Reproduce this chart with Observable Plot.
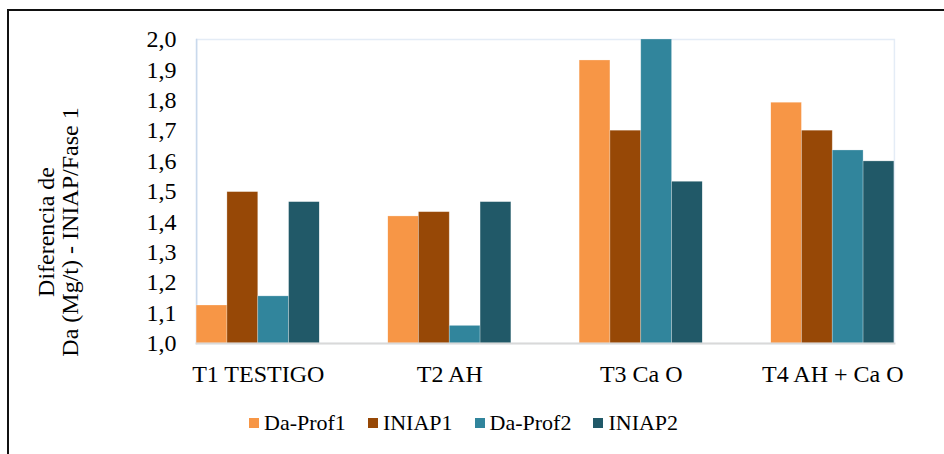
<!DOCTYPE html>
<html>
<head>
<meta charset="utf-8">
<script src="https://cdn.jsdelivr.net/npm/d3@7"></script>
<script src="https://cdn.jsdelivr.net/npm/@observablehq/plot@0.6"></script>
<style>
  html, body { margin: 0; padding: 0; background: #fff; }
  #wrap { position: relative; width: 944px; height: 454px; overflow: hidden; font-family: "Liberation Serif", "Times New Roman", serif; }
  #border { position: absolute; left: 7px; top: 9px; width: 2000px; height: 2000px; border-top: 2px solid #111; border-left: 2px solid #111; pointer-events: none; }
  #chart { position: absolute; left: 0; top: 0; }
  #legend { position: absolute; left: 249px; top: 410px; height: 26px; display: flex; align-items: center; font-size: 22px; color: #000; }
  .item { display: flex; align-items: center; margin-right: 22px; }
  .sw { width: 10px; height: 10px; margin-right: 5px; }
</style>
</head>
<body>
<div id="wrap">
  <div id="chart"></div>
  <div id="legend"></div>
  <div id="border"></div>
</div>
<script>
const categories = ["T1 TESTIGO", "T2 AH", "T3 Ca O", "T4 AH + Ca O"];
const series = ["Da-Prof1", "INIAP1", "Da-Prof2", "INIAP2"];
const colors = ["#F79646", "#974806", "#31859C", "#215968"];
const daProf1 = [1.125, 1.418, 1.931, 1.792];
const iniap1 = [1.498, 1.432, 1.700, 1.700];
const daProf2 = [1.155, 1.058, 2.000, 1.635];
const iniap2 = [1.465, 1.465, 1.532, 1.599];
const yTicks = [1.0, 1.1, 1.2, 1.3, 1.4, 1.5, 1.6, 1.7, 1.8, 1.9, 2.0];
const yTitle = ["Diferencia de", "Da (Mg/t) - INIAP/Fase 1"];

const valuesBySeries = [daProf1, iniap1, daProf2, iniap2];
const data = [];
categories.forEach((c, i) => {
  series.forEach((s, j) => data.push({category: c, series: s, value: valuesBySeries[j][i]}));
});

const chart = Plot.plot({
  width: 944,
  height: 395,
  marginLeft: 162,
  marginRight: 16,
  marginTop: 39,
  marginBottom: 52,
  style: {fontFamily: "'Liberation Serif', 'Times New Roman', serif", fontSize: "24px", color: "#000", background: "transparent"},
  fx: {domain: categories, paddingInner: 0.356, paddingOuter: 0.178, round: false, label: null, tickSize: 0, tickPadding: 21, axis: "bottom"},
  x: {domain: series, padding: 0, round: false, axis: null},
  y: {domain: [1, 2], ticks: yTicks, tickFormat: d => d.toFixed(1).replace(".", ","), tickSize: 0, tickPadding: 20, label: null},
  color: {domain: series, range: colors},
  marks: [
    Plot.frame({facet: "super", stroke: "#e4ecf6", strokeWidth: 1.5}),
    Plot.frame({facet: "super", anchor: "left", stroke: "#c9d9ec", strokeWidth: 1.5}),
    Plot.barY(data, {fx: "category", x: "series", y1: 1, y2: "value", fill: "series", stroke: "#fff", strokeOpacity: 0.35, strokeWidth: 0.75, inset: 0, clip: true}),
    Plot.frame({facet: "super", anchor: "bottom", stroke: "#d9d9d9", strokeWidth: 2})
  ]
});
document.getElementById("chart").appendChild(chart);

// two-line rotated y-axis title
const svg = d3.select(chart);
const t = svg.append("text")
  .attr("transform", "translate(0,232) rotate(-90)")
  .attr("text-anchor", "middle")
  .attr("font-family", "'Liberation Serif', 'Times New Roman', serif")
  .attr("font-size", 24)
  .attr("fill", "#000");
t.append("tspan").attr("x", 0).attr("y", 54).text(yTitle[0]);
t.append("tspan").attr("x", 0).attr("y", 78).text(yTitle[1]);

// legend
const lg = d3.select("#legend");
series.forEach((s, i) => {
  const it = lg.append("div").attr("class", "item");
  it.append("div").attr("class", "sw").style("background", colors[i]);
  it.append("span").text(s);
});
</script>
</body>
</html>
